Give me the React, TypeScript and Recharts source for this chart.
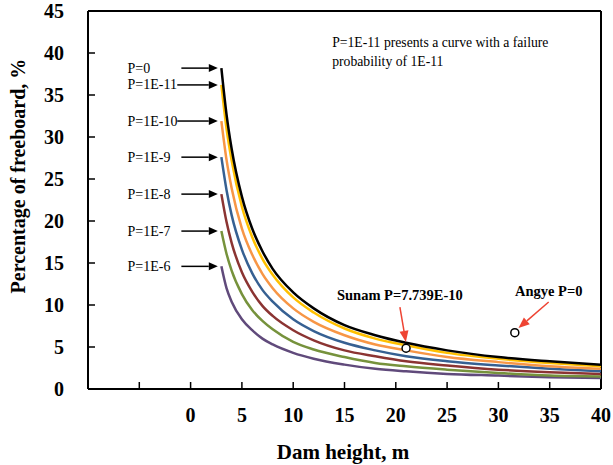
import React from 'react';
import { ComposedChart, Line, Scatter, XAxis, YAxis, ReferenceLine, ReferenceDot } from 'recharts';

// dam heights (m) where the curves were read
const heights = [3, 3.5, 4, 5, 6, 7, 8, 10, 12, 15, 18, 21, 25, 30, 35, 40];

// percentage of freeboard for each failure probability
const p0 = [38.2, 32.7, 28.6, 22.9, 19.1, 16.4, 14.3, 11.5, 9.6, 7.6, 6.4, 5.5, 4.6, 3.8, 3.3, 2.9];
const p1e11 = [36.2, 31.0, 27.2, 21.7, 18.1, 15.5, 13.6, 10.9, 9.1, 7.2, 6.0, 5.2, 4.3, 3.6, 3.1, 2.7];
const p1e10 = [31.9, 27.3, 23.9, 19.1, 16.0, 13.7, 12.0, 9.6, 8.0, 6.4, 5.3, 4.6, 3.8, 3.2, 2.7, 2.4];
const p1e9 = [27.6, 23.7, 20.7, 16.6, 13.8, 11.8, 10.4, 8.3, 6.9, 5.5, 4.6, 3.9, 3.3, 2.8, 2.4, 2.1];
const p1e8 = [23.2, 19.9, 17.4, 13.9, 11.6, 9.9, 8.7, 7.0, 5.8, 4.6, 3.9, 3.3, 2.8, 2.3, 2.0, 1.8];
const p1e7 = [18.8, 16.1, 14.1, 11.3, 9.4, 8.1, 7.1, 5.6, 4.7, 3.8, 3.1, 2.7, 2.3, 1.9, 1.6, 1.5];
const p1e6 = [14.6, 12.0, 10.4, 8.3, 7.0, 6.0, 5.3, 4.3, 3.6, 2.9, 2.4, 2.1, 1.8, 1.6, 1.4, 1.3];

// observed dams
const sunam = [{ h: 21, v: 4.85 }];
const angye = [{ h: 31.6, v: 6.7 }];

const xTicks = [-10, -5, 0, 5, 10, 15, 20, 25, 30, 35, 40];
const yTicks = [0, 5, 10, 15, 20, 25, 30, 35, 40, 45];

// left-hand labels: text, label y, arrow start x
const curveLabels = [
  { text: 'P=0', y: 38.2, from: -0.9 },
  { text: 'P=1E-11', y: 36.2, from: -1.3 },
  { text: 'P=1E-10', y: 31.9, from: -1.3 },
  { text: 'P=1E-9', y: 27.6, from: -0.9 },
  { text: 'P=1E-8', y: 23.2, from: -0.9 },
  { text: 'P=1E-7', y: 18.8, from: -0.9 },
  { text: 'P=1E-6', y: 14.6, from: -0.9 },
];

const series = [
  { key: 'p1e6', values: p1e6, color: '#604A7B' },
  { key: 'p1e7', values: p1e7, color: '#76923C' },
  { key: 'p1e8', values: p1e8, color: '#8B3432' },
  { key: 'p1e9', values: p1e9, color: '#366092' },
  { key: 'p1e10', values: p1e10, color: '#F79646' },
  { key: 'p1e11', values: p1e11, color: '#FFC000' },
  { key: 'p0', values: p0, color: '#000000' },
];

const chartData = heights.map((h, i) => {
  const row: any = { h };
  series.forEach(s => { row[s.key] = s.values[i]; });
  return row;
});

const font = '"Liberation Serif", "Times New Roman", serif';

const Arrow = (props: any) => {
  const { x1, y1, x2, y2, color, len, wid } = props;
  const a = Math.atan2(y2 - y1, x2 - x1);
  const bx = x2 - len * Math.cos(a);
  const by = y2 - len * Math.sin(a);
  const px = -Math.sin(a) * wid;
  const py = Math.cos(a) * wid;
  return (
    <g>
      <line x1={x1} y1={y1} x2={bx} y2={by} stroke={color} strokeWidth={1.5} />
      <polygon points={`${x2},${y2} ${bx + px},${by + py} ${bx - px},${by - py}`} fill={color} />
    </g>
  );
};

const XTick = (props: any) => {
  const { x, y, payload } = props;
  return (
    <g>
      <line x1={x} y1={y} x2={x} y2={y - 7} stroke="#000" strokeWidth={1.5} />
      {payload.value >= 0 && (
        <text x={x} y={y + 26} textAnchor="middle" dominantBaseline="central"
          style={{ fontFamily: font, fontWeight: 'bold', fontSize: 20 }} fill="#000">{payload.value}</text>
      )}
    </g>
  );
};

const YTick = (props: any) => {
  const { x, y, payload } = props;
  return (
    <g>
      <line x1={x} y1={y} x2={x + 7} y2={y} stroke="#000" strokeWidth={1.5} />
      <text x={x - 24} y={y} textAnchor="end" dominantBaseline="central"
        style={{ fontFamily: font, fontWeight: 'bold', fontSize: 20 }} fill="#000">{payload.value}</text>
    </g>
  );
};

const YTitle = () => (
  <text transform="translate(18,176) rotate(-90)" textAnchor="middle" dominantBaseline="central"
    style={{ fontFamily: font, fontWeight: 'bold', fontSize: 20 }} fill="#000">Percentage of freeboard, %</text>
);

const XTitle = () => (
  <text x={343} y={452} textAnchor="middle" dominantBaseline="central"
    style={{ fontFamily: font, fontWeight: 'bold', fontSize: 21 }} fill="#000">Dam height, m</text>
);

const textShape = (text: string, anchor: string, size: number, weight: string) => (p: any) => (
  <text x={p.cx} y={p.cy} textAnchor={anchor} dominantBaseline="central"
    style={{ fontFamily: font, fontSize: size, fontWeight: weight as any }} fill="#000">{text}</text>
);

const circleShape = (p: any) => (
  <circle cx={p.cx} cy={p.cy} r={4} fill="#fff" stroke="#000" strokeWidth={1.5} />
);

export default function App() {
  return (
    <div style={{ position: 'absolute', left: 0, top: 0, background: '#fff' }}>
      <ComposedChart width={613} height={465} data={chartData}
        margin={{ top: 11, right: 12, left: 0, bottom: 0 }}
        style={{ fontFamily: font }}>
        <XAxis dataKey="h" type="number" domain={[-10, 40]} ticks={xTicks} interval={0}
          allowDataOverflow height={76} tickSize={0} tickMargin={0} tick={<XTick />}
          axisLine={{ stroke: '#000', strokeWidth: 2 }} label={<XTitle />} />
        <YAxis dataKey="v" type="number" domain={[0, 45]} ticks={yTicks} interval={0}
          allowDataOverflow width={88} tickSize={0} tickMargin={0} tick={<YTick />}
          axisLine={{ stroke: '#000', strokeWidth: 2 }} label={<YTitle />} />
        <ReferenceLine y={45} stroke="#000" strokeWidth={2} />
        <ReferenceLine x={40} stroke="#000" strokeWidth={2} />

        {series.map(s => (
          <Line key={s.key} dataKey={s.key} type="monotone" stroke={s.color} strokeWidth={2.5}
            dot={false} isAnimationActive={false} />
        ))}

        <Scatter data={sunam} shape={circleShape} isAnimationActive={false} />
        <Scatter data={angye} shape={circleShape} isAnimationActive={false} />

        {curveLabels.map(l => (
          <ReferenceDot key={l.text} x={-6.15} y={l.y} ifOverflow="visible"
            shape={textShape(l.text, 'start', 14, 'normal')} />
        ))}
        {curveLabels.map(l => (
          <ReferenceLine key={'a' + l.text} segment={[{ x: l.from, y: l.y }, { x: 2.65, y: l.y }]}
            ifOverflow="visible" shape={(p: any) => <Arrow {...p} color="#000" len={9} wid={4} />} />
        ))}

        <ReferenceDot x={13.8} y={41.3} ifOverflow="visible"
          shape={textShape('P=1E-11 presents a curve with a failure', 'start', 13.7, 'normal')} />
        <ReferenceDot x={13.8} y={39.0} ifOverflow="visible"
          shape={textShape('probability of 1E-11', 'start', 13.7, 'normal')} />

        <ReferenceDot x={20.4} y={11.2} ifOverflow="visible"
          shape={textShape('Sunam P=7.739E-10', 'middle', 14.5, 'bold')} />
        <ReferenceLine segment={[{ x: 20.4, y: 9.76 }, { x: 20.98, y: 5.6 }]} ifOverflow="visible"
          shape={(p: any) => <Arrow {...p} color="#EE4433" len={11} wid={4.5} />} />
        <ReferenceDot x={34.9} y={11.67} ifOverflow="visible"
          shape={textShape('Angye P=0', 'middle', 14.5, 'bold')} />
        <ReferenceLine segment={[{ x: 34.9, y: 10.36 }, { x: 31.96, y: 7.26 }]} ifOverflow="visible"
          shape={(p: any) => <Arrow {...p} color="#EE4433" len={11} wid={4.5} />} />
      </ComposedChart>
    </div>
  );
}
